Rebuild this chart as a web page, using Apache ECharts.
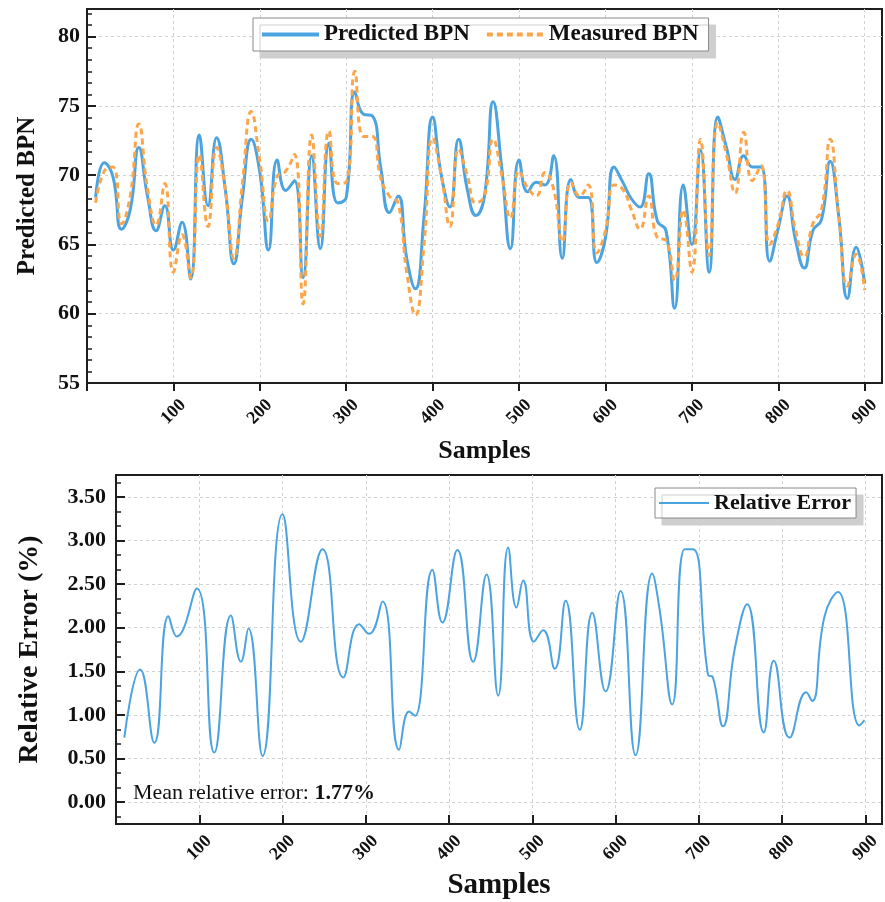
<!DOCTYPE html>
<html><head><meta charset="utf-8">
<script src="https://cdn.jsdelivr.net/npm/echarts@6/dist/echarts.min.js"></script>
<style>html,body{margin:0;padding:0;background:#fff}#c{width:885px;height:902px}</style>
</head><body><div id="c"></div>
<script>
// ---------- data ----------
const samples = [10,20,30,40,50,60,70,80,90,100,110,120,130,140,150,160,170,180,190,200,
  210,220,230,240,250,260,270,280,290,300,310,320,330,340,350,360,370,380,390,400,
  410,420,430,440,450,460,470,480,490,500,510,520,530,540,550,560,570,580,590,600,
  610,620,630,640,650,660,670,680,690,700,710,720,730,740,750,760,770,780,790,800,
  810,820,830,840,850,860,870,880,890,900];
const predictedBPN = [68.4,70.9,69.9,66.1,67.5,72.0,68.5,66.0,67.8,64.6,66.6,62.5,72.9,67.8,72.7,69.0,63.6,68.5,72.6,70.2,
  64.6,71.1,68.9,69.6,62.6,71.4,64.7,72.3,68.0,68.4,76.0,74.4,74.3,70.5,67.3,68.5,64.0,61.8,67.0,74.2,
  70.0,67.7,72.6,69.0,67.1,68.5,75.3,70.5,64.7,71.1,68.8,69.5,69.3,71.4,64.0,69.7,68.4,68.4,63.7,65.5,
  70.6,69.5,68.3,67.7,70.1,66.7,66.0,60.4,69.3,65.0,71.8,63.0,74.2,72.0,69.7,71.4,70.6,70.6,63.8,66.2,
  68.5,65.3,63.3,66.0,66.8,71.0,67.0,61.1,64.8,62.2];
const measuredBPN = [68.0,70.3,70.6,66.5,68.5,73.7,69.0,66.4,69.4,63.0,65.7,62.6,71.5,66.3,72.0,69.0,64.0,69.5,74.6,71.0,
  66.7,69.9,70.3,71.5,60.7,72.9,65.6,73.2,69.4,69.5,77.5,72.8,72.8,69.8,68.5,68.0,63.0,59.9,65.0,72.7,
  70.0,66.3,71.9,70.0,68.0,68.5,72.6,70.0,66.9,70.3,69.1,68.5,70.2,69.0,65.2,69.5,68.5,69.3,64.4,66.0,
  69.3,69.0,67.5,66.1,68.5,65.5,65.3,62.4,67.5,63.0,72.6,64.2,73.8,71.5,68.7,73.1,69.6,70.7,65.0,66.5,
  68.9,66.0,64.1,66.5,67.5,72.6,67.0,62.0,64.3,61.7];
const errSamples = [10,29,46,63,73,97,118,138,150,159,176,200,222,248,273,292,304,320,340,352,359,380,392,410,429,445,459,471,481,489,
  502,513,527,540,557,572,588,606,624,644,653,668,683,693,711,717,729,743,758,778,790,809,829,836,851,867,893,899];
const relError = [0.74,1.52,0.68,2.13,1.90,2.45,0.57,2.14,1.61,1.99,0.53,3.30,1.84,2.90,1.43,2.04,1.93,2.30,0.60,1.04,0.99,2.66,2.06,2.89,1.61,2.61,1.22,2.92,2.23,2.54,
  1.84,1.97,1.53,2.31,0.83,2.17,1.27,2.42,0.54,2.62,2.20,1.12,2.90,2.90,1.46,1.43,0.87,1.75,2.27,0.80,1.62,0.74,1.26,1.16,2.13,2.41,0.88,0.94];
const xTickLabels = [100,200,300,400,500,600,700,800,900];
const xTicksTop = [0,100,200,300,400,500,600,700,800,900];
const yTicksTop = [55,60,65,70,75,80];
const yTicksBottom = [0,0.5,1,1.5,2,2.5,3,3.5];
const meanRelError = '1.77%';

// ---------- styling ----------
const FONT = 'Liberation Serif';
const BLUE = '#4ba3e0';
const ORANGE = '#fca64c';
const AX = '#1e1e1e';
const gridLine = {show:true, lineStyle:{color:'#d2d2d2', width:1, type:[3,3]}};
const boldText = (s) => ({fontFamily:FONT, fontWeight:'bold', fontSize:s, color:'#111'});

const pairs = (xs, ys) => xs.map((x,i)=>[x, ys[i]]);

const chart = echarts.init(document.getElementById('c'), null, {renderer:'canvas'});
chart.setOption({
  backgroundColor:'#fff',
  animation:false,
  grid:[
    {left:87, top:9, right:3, bottom:519, show:true, borderColor:AX, borderWidth:2, backgroundColor:'transparent'},
    {left:116, top:475, right:3, bottom:78, show:true, borderColor:AX, borderWidth:2, backgroundColor:'transparent'}
  ],
  title:{
    left:128, top:777,
    text:'{a|Mean relative error: }{b|' + meanRelError + '}',
    textStyle:{rich:{
      a:{fontFamily:FONT, fontSize:22, fontWeight:'normal', color:'#111'},
      b:{fontFamily:FONT, fontSize:22, fontWeight:'bold', color:'#111'}
    }}
  },
  legend:[
    {data:['Predicted BPN','Measured BPN'], left:253, top:18, orient:'horizontal',
     padding:[5,10,5,7], itemGap:15, itemWidth:57, itemHeight:14,
     itemStyle:{opacity:0}, lineStyle:{width:4},
     backgroundColor:'#fff', borderColor:'#8a8a8a', borderWidth:1,
     shadowColor:'#cfcfcf', shadowBlur:0, shadowOffsetX:7, shadowOffsetY:7,
     textStyle:boldText(23)},
    {data:['Relative Error'], left:655, top:488,
     padding:[4,5,4,3], itemGap:10, itemWidth:50, itemHeight:14,
     itemStyle:{opacity:0}, lineStyle:{width:2},
     backgroundColor:'#fff', borderColor:'#8a8a8a', borderWidth:1,
     shadowColor:'#cfcfcf', shadowBlur:0, shadowOffsetX:7, shadowOffsetY:7,
     textStyle:boldText(22)}
  ],
  xAxis:[
    {gridIndex:0, type:'value', min:0, max:920, interval:100,
     axisLine:{show:true, onZero:false, lineStyle:{color:AX, width:2}},
     axisTick:{show:true, inside:false, length:8, customValues:xTicksTop, lineStyle:{color:AX, width:2}},
     axisLabel:{customValues:xTickLabels, rotate:45, align:'center', verticalAlign:'middle', margin:29, ...boldText(18)},
     splitLine:gridLine,
     name:'Samples', nameLocation:'middle', nameGap:55, nameTextStyle:boldText(26)},
    {gridIndex:1, type:'value', min:0, max:920, interval:100,
     axisLine:{show:true, onZero:false, lineStyle:{color:AX, width:2}},
     axisTick:{show:true, inside:true, length:9, customValues:xTickLabels, lineStyle:{color:AX, width:2}},
     axisLabel:{customValues:xTickLabels, rotate:45, align:'center', verticalAlign:'middle', margin:24, ...boldText(18)},
     splitLine:gridLine,
     name:'Samples', nameLocation:'middle', nameGap:47, nameTextStyle:boldText(29)}
  ],
  yAxis:[
    {gridIndex:0, type:'value', min:55, max:82, interval:5,
     axisLine:{show:true, onZero:false, lineStyle:{color:AX, width:2}},
     axisTick:{show:true, inside:true, length:9, customValues:yTicksTop, lineStyle:{color:AX, width:2}},
     minorTick:{show:true, splitNumber:6, length:5, lineStyle:{color:AX, width:1.5}},
     axisLabel:{customValues:yTicksTop, margin:7, ...boldText(22)},
     splitLine:gridLine,
     name:'Predicted BPN', nameLocation:'middle', nameGap:47, nameTextStyle:boldText(25)},
    {gridIndex:1, type:'value', min:-0.25, max:3.75, minInterval:0.5, maxInterval:0.5, splitNumber:8,
     axisLine:{show:true, onZero:false, lineStyle:{color:AX, width:2}},
     axisTick:{show:true, inside:true, length:9, customValues:yTicksBottom, lineStyle:{color:AX, width:2}},
     minorTick:{show:true, splitNumber:3, length:5, lineStyle:{color:AX, width:1.5}},
     axisLabel:{customValues:yTicksBottom, margin:10, formatter:(v)=>v.toFixed(2), ...boldText(22)},
     splitLine:gridLine,
     name:'Relative Error (%)', nameLocation:'middle', nameGap:72, nameTextStyle:boldText(28)}
  ],
  series:[
    {name:'Predicted BPN', type:'line', xAxisIndex:0, yAxisIndex:0, smooth:0.5, symbol:'none',
     data:pairs(samples, predictedBPN), lineStyle:{color:BLUE, width:3}, itemStyle:{color:BLUE}, z:3},
    {name:'Measured BPN', type:'line', xAxisIndex:0, yAxisIndex:0, smooth:0.5, symbol:'none',
     data:pairs(samples, measuredBPN), lineStyle:{color:ORANGE, width:3, type:[6,4]}, itemStyle:{color:ORANGE}, z:4},
    {name:'Relative Error', type:'line', xAxisIndex:1, yAxisIndex:1, smooth:0.5, symbol:'none',
     data:pairs(errSamples, relError), lineStyle:{color:BLUE, width:2}, itemStyle:{color:BLUE}, z:3}
  ]
});
</script>
</body></html>
